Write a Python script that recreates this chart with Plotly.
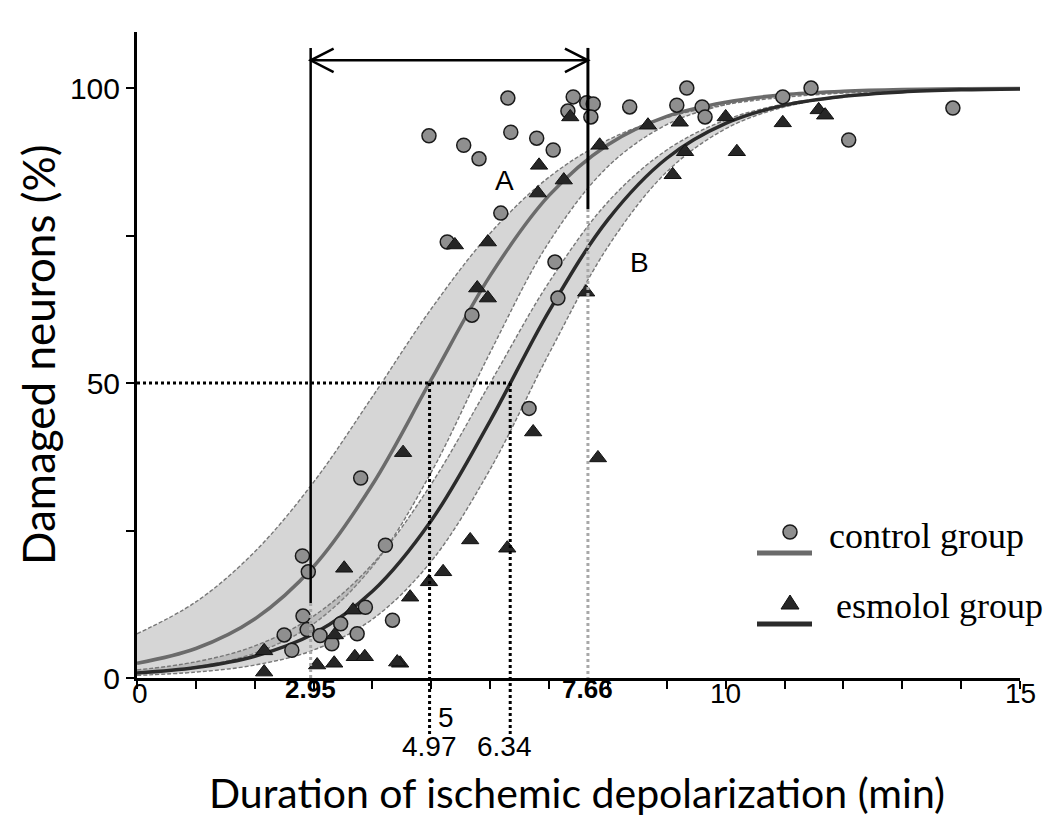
import plotly.graph_objects as go

# ---------------- data ----------------
CURVE_X = [0, 1, 2, 3, 4, 5, 6, 7, 8, 9, 10, 11, 12, 13, 14, 15]
CTRL_FIT = [2.5, 5.0, 10.0, 18.9, 32.8, 50.6, 68.2, 81.8, 90.4, 95.2, 97.6, 98.9, 99.45, 99.74, 99.88, 99.94]
CTRL_UPPER = [7.5, 12.9, 21.4, 33.2, 47.7, 62.6, 75.4, 84.9, 91.2, 95.0, 97.2, 98.45, 99.15, 99.53, 99.75, 99.86]
CTRL_LOWER = [0.8, 1.9, 4.2, 9.2, 18.9, 34.9, 55.2, 73.9, 86.7, 93.8, 97.2, 98.76, 99.46, 99.76, 99.9, 99.96]
ESM_FIT = [0.84, 1.77, 3.69, 7.5, 14.7, 26.7, 43.6, 62.2, 77.7, 88.1, 94.0, 97.1, 98.6, 99.34, 99.69, 99.85]
ESM_UPPER = [1.36, 2.74, 5.43, 10.5, 19.3, 32.9, 50.0, 67.1, 80.7, 89.5, 94.6, 97.3, 98.6, 99.33, 99.67, 99.84]
ESM_LOWER = [0.45, 1.0, 2.19, 4.74, 9.97, 19.8, 35.4, 55.0, 73.1, 85.8, 93.1, 96.8, 98.5, 99.33, 99.7, 99.86]

CTRL_X = [6.30, 4.96, 5.55, 5.81, 6.35, 6.79, 7.07, 7.41, 7.32, 7.64, 7.75, 7.71, 8.37, 9.34, 9.17,
          9.60, 9.65, 10.97, 11.45, 12.09, 13.86, 6.18, 5.27, 7.10, 7.15, 5.69, 6.66, 3.80, 4.22, 2.81,
          2.91, 2.82, 2.89, 2.50, 2.63, 3.11, 3.31, 3.46, 3.74, 3.88, 4.34]
CTRL_Y = [98.3, 91.9, 90.3, 88.0, 92.5, 91.5, 89.5, 98.5, 96.1, 97.5, 97.3, 95.1, 96.8, 100.0, 97.1,
          96.8, 95.1, 98.5, 100.0, 91.2, 96.6, 78.8, 73.9, 70.5, 64.4, 61.5, 45.7, 33.9, 22.5, 20.7,
          18.0, 10.5, 8.2, 7.3, 4.7, 7.2, 5.8, 9.2, 7.5, 12.0, 9.8]

ESM_X = [7.36, 7.86, 6.83, 7.25, 6.81, 5.40, 5.96, 5.78, 5.96, 7.63, 8.68, 9.22, 10.00, 9.31, 10.97,
         11.58, 11.69, 10.19, 9.10, 6.73, 7.83, 5.66, 6.29, 5.20, 4.96, 4.64, 4.52, 4.47, 3.52, 3.67,
         2.16, 2.16, 3.06, 3.35, 3.70, 3.87, 4.42, 3.36]
ESM_Y = [95.1, 90.3, 86.9, 84.4, 82.2, 73.4, 73.9, 66.1, 64.4, 65.4, 93.7, 94.2, 95.1, 89.2, 94.1,
         96.3, 95.4, 89.2, 85.3, 41.7, 37.3, 23.4, 22.0, 18.0, 16.3, 13.7, 38.2, 2.5, 18.6, 11.5,
         4.6, 1.0, 2.2, 2.5, 3.6, 3.6, 2.7, 7.3]

EC50_CTRL = 4.97
EC50_ESM = 6.34
MARK_LEFT = 2.95
MARK_RIGHT = 7.66
HALF = 50
LEFT_SOLID_END = 12.7
RIGHT_SOLID_END = 79.5

X_MAX = 15
Y_MAX = 109.5

# ---------------- layout geometry (page has an 8px body margin) ----------------
OFF = 8
W, H = 1047, 811
ML, MT = 129, 24
PW, PH = 883, 646
MR = W - ML - PW
MB = H - MT - PH
SCR_L = ML + OFF            # screen x of plot left edge
SCR_B = MT + OFF + PH       # screen y of plot bottom edge


def px(x):
    return (x - SCR_L) / PW


def py(y):
    return (SCR_B - y) / PH


SANS = "Liberation Sans"
TITLE_FONT = "Lato"

fig = go.Figure()

band_edge = dict(color="#777777", width=1.4, dash="4px,2px")
band_fill = "rgba(140,140,140,0.36)"
fig.add_trace(go.Scatter(x=CURVE_X, y=CTRL_LOWER, mode="lines", line_shape="spline",
                         line=band_edge, showlegend=False))
fig.add_trace(go.Scatter(x=CURVE_X, y=CTRL_UPPER, mode="lines", line_shape="spline", fill="tonexty",
                         fillcolor=band_fill, line=band_edge, showlegend=False))
fig.add_trace(go.Scatter(x=CURVE_X, y=ESM_LOWER, mode="lines", line_shape="spline",
                         line=band_edge, showlegend=False))
fig.add_trace(go.Scatter(x=CURVE_X, y=ESM_UPPER, mode="lines", line_shape="spline", fill="tonexty",
                         fillcolor=band_fill, line=band_edge, showlegend=False))
fig.add_trace(go.Scatter(x=CURVE_X, y=CTRL_FIT, mode="lines", line_shape="spline",
                         line=dict(color="#6b6b6b", width=3.5), showlegend=False))
fig.add_trace(go.Scatter(x=CURVE_X, y=ESM_FIT, mode="lines", line_shape="spline",
                         line=dict(color="#2b2b2b", width=3.5), showlegend=False))

dot_black = dict(color="black", width=3, dash="dot")
dot_gray = dict(color="#a8a8a8", width=3, dash="dot")
solid = dict(color="black", width=2.5)
ARROW_Y = 104.7
LINE_TOP = 106.8
shapes = [
    dict(type="line", xref="x", yref="y", x0=0, x1=EC50_ESM, y0=HALF, y1=HALF, line=dot_black),
    dict(type="line", xref="x", yref="paper", x0=EC50_CTRL, x1=EC50_CTRL, y0=HALF / Y_MAX, y1=py(735), line=dot_black),
    dict(type="line", xref="x", yref="paper", x0=EC50_ESM, x1=EC50_ESM, y0=HALF / Y_MAX, y1=py(735), line=dot_black),
    dict(type="line", xref="x", yref="y", x0=MARK_LEFT, x1=MARK_LEFT, y0=LINE_TOP, y1=LEFT_SOLID_END, line=solid),
    dict(type="line", xref="x", yref="y", x0=MARK_LEFT, x1=MARK_LEFT, y0=LEFT_SOLID_END, y1=0, line=dot_gray),
    dict(type="line", xref="x", yref="y", x0=MARK_RIGHT, x1=MARK_RIGHT, y0=LINE_TOP, y1=RIGHT_SOLID_END,
         line=dict(color="black", width=3)),
    dict(type="line", xref="x", yref="y", x0=MARK_RIGHT, x1=MARK_RIGHT, y0=RIGHT_SOLID_END, y1=0, line=dot_gray),
    dict(type="line", xref="x", yref="y", x0=MARK_LEFT, x1=MARK_RIGHT, y0=ARROW_Y, y1=ARROW_Y, line=solid),
    dict(type="path", xref="x", yref="y",
         path=f"M {MARK_LEFT + 0.39} {ARROW_Y + 2.0} L {MARK_LEFT} {ARROW_Y} L {MARK_LEFT + 0.39} {ARROW_Y - 2.0}",
         line=solid),
    dict(type="path", xref="x", yref="y",
         path=f"M {MARK_RIGHT - 0.39} {ARROW_Y + 2.0} L {MARK_RIGHT} {ARROW_Y} L {MARK_RIGHT - 0.39} {ARROW_Y - 2.0}",
         line=solid),
    # custom legend glyphs
    dict(type="circle", xref="paper", yref="paper", x0=px(783), x1=px(797), y0=py(539), y1=py(525),
         fillcolor="#8f8f8f", line=dict(color="#1a1a1a", width=1.5)),
    dict(type="line", xref="paper", yref="paper", x0=px(757), x1=px(812), y0=py(553), y1=py(553),
         line=dict(color="#6b6b6b", width=5)),
    dict(type="path", xref="paper", yref="paper",
         path=f"M {px(781)} {py(609)} L {px(799)} {py(609)} L {px(790)} {py(595)} Z",
         fillcolor="#262626", line=dict(color="#111111", width=1)),
    dict(type="line", xref="paper", yref="paper", x0=px(757), x1=px(812), y0=py(624), y1=py(624),
         line=dict(color="#2b2b2b", width=5)),
]

fig.add_trace(go.Scatter(x=CTRL_X, y=CTRL_Y, mode="markers", name="control group",
                         marker=dict(symbol="circle", size=14, color="#8f8f8f",
                                     line=dict(color="#1a1a1a", width=1.5)), showlegend=False))
fig.add_trace(go.Scatter(x=ESM_X, y=ESM_Y, mode="markers", name="esmolol group",
                         marker=dict(symbol="triangle-up", size=15, color="#262626",
                                     line=dict(color="#111111", width=1)), showlegend=False))

ann = []


def add_text(text, x, y, size, xref="x", yref="y", family=SANS, bold=False,
             xanchor="center", yanchor="middle", **kw):
    t = f"<b>{text}</b>" if bold else text
    ann.append(dict(text=t, x=x, y=y, xref=xref, yref=yref, showarrow=False,
                    xanchor=xanchor, yanchor=yanchor, borderpad=0,
                    font=dict(family=family, size=size, color="black"), **kw))


add_text("*", 5.4, 111.3, 36, bold=True)
add_text("A", 6.25, 84.4, 28)
add_text("B", 8.54, 70.5, 28)
add_text("0", 0.05, py(693), 28, yref="paper")
add_text("10", 10, py(693), 28, yref="paper")
add_text("15", 15, py(693), 28, yref="paper")
add_text("5", 5.25, py(717), 28, yref="paper")
add_text(f"{MARK_LEFT:.2f}", MARK_LEFT, py(689), 26, yref="paper", bold=True)
add_text(f"{MARK_RIGHT:.2f}", MARK_RIGHT, py(689), 26, yref="paper", bold=True)
add_text(f"{EC50_CTRL:.2f}", EC50_CTRL, py(747), 28, yref="paper")
add_text(f"{EC50_ESM:.2f}", EC50_ESM - 0.1, py(747), 28, yref="paper")
add_text("Duration of ischemic depolarization (min)", px(577), py(818), 41, xref="paper", yref="paper",
         family=TITLE_FONT, yanchor="bottom")
add_text("Damaged neurons (%)", px(38), py(355), 44, xref="paper", yref="paper",
         family=TITLE_FONT, textangle=-90)
add_text("control group", px(828), py(536), 36, xref="paper", yref="paper",
         family="Liberation Serif", xanchor="left")
add_text("esmolol group", px(835), py(606), 36, xref="paper", yref="paper",
         family="Liberation Serif", xanchor="left")

fig.update_layout(
    width=W, height=H,
    margin=dict(l=ML, r=MR, t=MT, b=MB, autoexpand=False),
    paper_bgcolor="white", plot_bgcolor="white",
    shapes=shapes, annotations=ann, showlegend=False,
    xaxis=dict(range=[0, X_MAX], showgrid=False, zeroline=False, showline=True,
               linecolor="black", linewidth=3, ticks="outside", ticklen=8, tickwidth=2,
               tickcolor="black", tickvals=[0, 5, 10, 15], showticklabels=False,
               minor=dict(dtick=1, ticks="outside", ticklen=8, tickwidth=2, tickcolor="black")),
    yaxis=dict(range=[0, Y_MAX], showgrid=False, zeroline=False, showline=True,
               linecolor="black", linewidth=3, ticks="outside", ticklen=8, tickwidth=2,
               tickcolor="black", tickvals=[0, 50, 100], ticktext=["0", "50", "100"],
               tickfont=dict(family=SANS, size=30, color="black"),
               minor=dict(tickvals=[25, 75], ticks="outside", ticklen=8, tickwidth=2, tickcolor="black")),
)

fig.write_html("out.html")
